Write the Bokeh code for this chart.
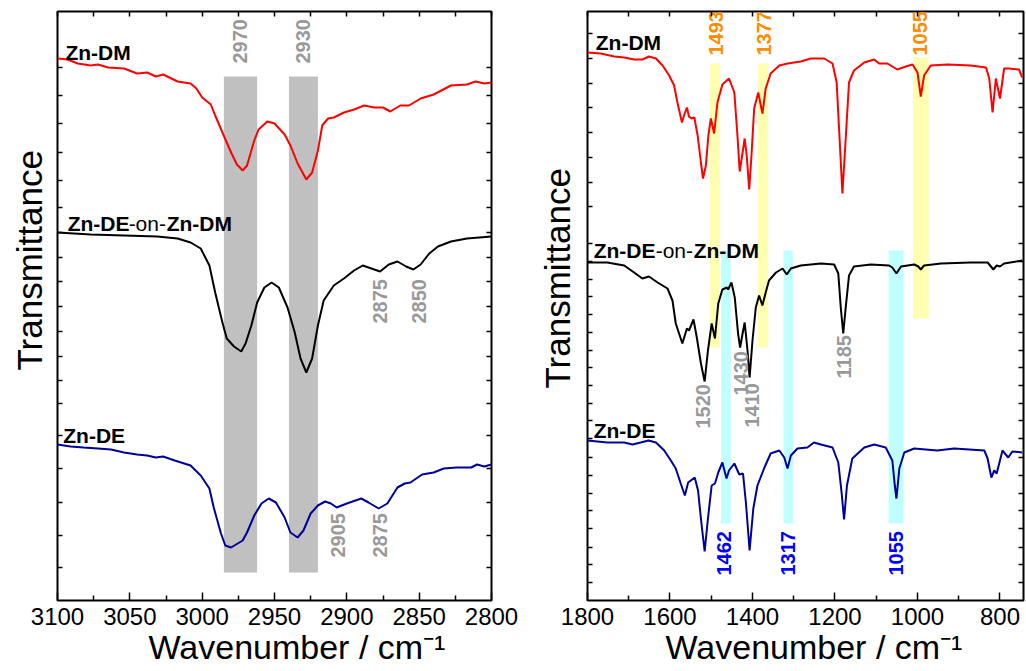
import math
from bokeh.plotting import figure
from bokeh.layouts import row
from bokeh.models import Range1d, LinearAxis, FixedTicker, Title
from bokeh.core.properties import value
from bokeh.embed import file_html
from bokeh.resources import INLINE

FONT = "Liberation Sans"

# ---------------- left panel: 3100-2800 cm-1 (transmittance, arbitrary offset units)
ch_dm = [(3100, 542), (3093, 541), (3086, 537), (3077, 535), (3072, 536), (3065, 533), (3054, 532),
         (3045, 527), (3038, 528), (3032, 524), (3027, 526), (3017, 519), (3008, 517), (3004, 512),
         (3000, 503), (2994, 496), (2991, 485), (2986, 468), (2980, 448), (2976, 436), (2972, 430),
         (2969, 435), (2964, 460), (2961, 471), (2955, 479), (2950, 477), (2943, 466), (2939, 455),
         (2934, 437), (2928, 421), (2924, 428), (2920, 450), (2917, 475), (2913, 482), (2909, 483),
         (2902, 488), (2895, 491), (2888, 495), (2881, 493), (2875, 493), (2870, 489), (2863, 495),
         (2857, 495), (2849, 502), (2840, 506), (2828, 515), (2817, 516), (2811, 519), (2805, 517),
         (2800, 518)]
ch_on = [(3100, 368), (3077, 366), (3054, 365), (3031, 364), (3017, 362), (3008, 358), (3001, 352),
         (2995, 335), (2991, 308), (2986, 278), (2983, 262), (2978, 254), (2973, 249), (2970, 257),
         (2966, 275), (2962, 298), (2957, 313), (2952, 318), (2947, 313), (2941, 293), (2936, 268),
         (2932, 242), (2928, 228), (2924, 242), (2920, 275), (2916, 300), (2909, 315), (2902, 322),
         (2895, 330), (2889, 335), (2883, 332), (2877, 329), (2871, 336), (2865, 339), (2859, 334),
         (2854, 331), (2849, 336), (2843, 347), (2837, 354), (2828, 359), (2817, 362), (2800, 364)]
ch_de = [(3100, 156), (3091, 154), (3082, 153), (3072, 152), (3063, 151), (3054, 148), (3045, 146),
         (3038, 145), (3032, 143), (3027, 144), (3019, 140), (3008, 135), (3001, 125), (2995, 112),
         (2992, 93), (2987, 67), (2984, 55), (2980, 53), (2972, 60), (2969, 68), (2964, 85),
         (2959, 97), (2954, 102), (2949, 98), (2943, 83), (2939, 68), (2934, 63), (2930, 70),
         (2925, 87), (2920, 95), (2915, 99), (2911, 97), (2907, 93), (2900, 97), (2890, 102),
         (2885, 98), (2878, 92), (2872, 97), (2865, 113), (2860, 117), (2856, 118), (2848, 126),
         (2840, 128), (2833, 132), (2824, 133), (2814, 133), (2810, 136), (2805, 134), (2800, 136)]

left_bands = [(2985, 2962), (2940, 2920)]
left_band_span = (28, 524)
left_peaks_top = ["2970", "2930"]
left_peaks_top_x = [2974, 2930]
left_peaks_mid = ["2875", "2850"]
left_peaks_mid_x = [2877, 2850]
left_peaks_bot = ["2905", "2875"]
left_peaks_bot_x = [2906, 2877]

# ---------------- right panel: 1800-743 cm-1
fp_dm = [(1800, 548), (1768, 547), (1735, 544), (1711, 543), (1687, 541), (1667, 541), (1651, 544),
         (1634, 542), (1618, 535), (1602, 525), (1590, 515), (1582, 498), (1571, 478), (1566, 485),
         (1559, 493), (1554, 484), (1548, 482), (1541, 483), (1533, 465), (1525, 438), (1520, 422),
         (1513, 435), (1507, 465), (1501, 482), (1493, 467), (1485, 498), (1473, 516), (1457, 522),
         (1444, 508), (1436, 462), (1431, 429), (1424, 448), (1419, 462), (1414, 445), (1408, 411),
         (1402, 448), (1396, 492), (1386, 508), (1376, 487), (1368, 512), (1356, 527), (1335, 535),
         (1315, 537), (1283, 539), (1259, 542), (1226, 542), (1206, 537), (1196, 518), (1188, 455),
         (1182, 407), (1175, 455), (1166, 518), (1154, 530), (1129, 538), (1105, 541), (1093, 537),
         (1073, 537), (1049, 531), (1028, 534), (1012, 536), (1000, 528), (992, 504), (984, 525),
         (968, 535), (927, 536), (871, 535), (834, 533), (826, 522), (818, 488), (810, 522),
         (800, 502), (790, 532), (778, 532), (754, 531), (746, 523)]
fp_on = [(1800, 338), (1752, 338), (1711, 335), (1687, 328), (1667, 322), (1651, 324), (1630, 318),
         (1606, 312), (1594, 300), (1586, 277), (1570, 257), (1559, 272), (1554, 270), (1543, 281),
         (1535, 263), (1525, 237), (1516, 219), (1508, 250), (1499, 277), (1491, 262), (1483, 297),
         (1473, 311), (1462, 313), (1459, 311), (1451, 318), (1443, 303), (1435, 267), (1430, 253),
         (1424, 267), (1419, 278), (1412, 250), (1407, 223), (1400, 260), (1392, 293), (1384, 305),
         (1376, 295), (1368, 308), (1360, 320), (1343, 328), (1327, 332), (1317, 326), (1307, 332),
         (1283, 335), (1234, 337), (1202, 336), (1192, 327), (1186, 293), (1180, 267), (1174, 293),
         (1166, 325), (1154, 334), (1113, 336), (1069, 335), (1061, 333), (1051, 327), (1040, 334),
         (1008, 336), (998, 334), (992, 331), (984, 335), (943, 337), (871, 338), (830, 338),
         (822, 334), (816, 331), (808, 335), (800, 334), (790, 337), (746, 340)]
fp_de = [(1800, 160), (1752, 158), (1711, 158), (1691, 156), (1671, 158), (1652, 160), (1634, 158),
         (1614, 150), (1598, 140), (1586, 132), (1574, 117), (1564, 105), (1556, 118), (1540, 123),
         (1532, 110), (1524, 78), (1516, 49), (1508, 82), (1499, 115), (1491, 117), (1483, 128),
         (1473, 138), (1463, 122), (1457, 130), (1444, 137), (1432, 126), (1423, 127), (1416, 98),
         (1407, 50), (1398, 92), (1388, 115), (1372, 132), (1356, 147), (1335, 150), (1323, 143),
         (1315, 132), (1307, 145), (1291, 152), (1267, 153), (1251, 158), (1234, 156), (1206, 153),
         (1192, 138), (1184, 108), (1178, 81), (1171, 115), (1158, 142), (1129, 153), (1105, 156),
         (1077, 153), (1061, 140), (1055, 115), (1051, 102), (1044, 132), (1032, 148), (1008, 152),
         (952, 150), (911, 152), (838, 150), (830, 142), (821, 123), (814, 130), (808, 127),
         (794, 150), (780, 143), (770, 149), (746, 148)]

yellow_bands = [(1503, 1479, 253, 537), (1387, 1362, 253, 537), (1011, 973, 282, 543)]
cyan_bands = [(1476, 1453, 77, 350), (1325, 1302, 77, 350), (1070, 1034, 77, 350)]
orange_peaks = ["1493", "1377", "1055"]
orange_peaks_x = [1488, 1373, 993]
gray_peaks = ["1520", "1430", "1410", "1185"]
gray_peaks_x = [1519, 1429, 1401, 1179]
gray_peaks_y = [172, 205, 173, 222]
blue_peaks = ["1462", "1317", "1055"]
blue_peaks_x = [1470, 1313, 1053]

left_yticks = [533, 505, 477, 448, 420, 393, 368, 343, 319, 294, 269, 244, 220, 197, 165, 132, 98, 65, 33]
right_yticks = [567, 542, 517, 493, 468, 443, 418, 394, 357, 339, 321, 304, 286, 268, 250, 233, 215,
                197, 180, 162, 143, 125, 107, 90, 72, 53, 36, 18]

RED, BLACK, NAVY = "#ff0000", "#000000", "#000099"
GRAY_TXT, ORANGE, BLUE = "#999999", "#ff8c00", "#0000ff"


def unzip(pairs):
    return [a for a, _ in pairs], [b for _, b in pairs]


def make_fig(width, xr, border_left, border_right):
    p = figure(width=width, height=671, x_range=xr, y_range=Range1d(0, 589),
               output_backend="svg", toolbar_location=None, x_axis_location=None,
               y_axis_location=None,
               min_border_left=border_left, min_border_right=border_right,
               min_border_top=11, min_border_bottom=71)
    p.grid.visible = False
    p.outline_line_color = "black"
    p.outline_line_width = 2
    p.background_fill_color = "white"
    p.border_fill_color = "white"
    return p


def add_axis(p, side, major, minor, major_len, minor_len, labels):
    ax = LinearAxis(ticker=FixedTicker(ticks=major, minor_ticks=minor))
    ax.axis_line_color = None
    ax.major_tick_in = major_len
    ax.major_tick_out = 0
    ax.minor_tick_in = minor_len
    ax.minor_tick_out = 0
    ax.major_tick_line_width = 1.5
    ax.minor_tick_line_width = 1.5
    ax.major_tick_line_color = "black"
    ax.minor_tick_line_color = "black"
    if labels:
        ax.major_label_text_font = FONT
        ax.major_label_text_font_size = "24px"
        ax.major_label_text_color = "black"
        ax.major_label_standoff = 7
    else:
        ax.major_label_text_color = None
        ax.major_label_text_font_size = "2px"
        ax.major_label_standoff = 0
    p.add_layout(ax, side)


def series_label(p, x, y, parts):
    off = 0
    for txt, bold, w in parts:
        p.text(x=[x], y=[y], text=[txt], x_offset=off, text_font=value(FONT),
               text_font_size="21px", text_font_style="bold" if bold else "normal",
               text_color="black", text_baseline="alphabetic", text_align="left")
        off += w


def peak_labels(p, xs, ys, texts, color, size="20px"):
    p.text(x=xs, y=ys, text=texts, angle=math.pi / 2, text_font=value(FONT),
           text_font_size=size, text_font_style="bold", text_color=color,
           text_align="left", text_baseline="middle")


def titles(p, y_offset, y_standoff, x_offset):
    p.add_layout(Title(text="Transmittance", align="left", offset=y_offset, vertical_align="top",
                       standoff=y_standoff, text_font=FONT, text_font_size="35px",
                       text_font_style="normal", text_color="black"), "left")
    p.add_layout(Title(text="Wavenumber / cm\u207b\u00b9", align="left", offset=x_offset,
                       vertical_align="top", standoff=0, text_font=FONT, text_font_size="34px",
                       text_font_style="normal", text_color="black"), "below")


# ---------------- left figure
pl = make_fig(520, Range1d(3100, 2800), 57, 29)
add_axis(pl, "below", list(range(2800, 3101, 50)), list(range(2825, 3100, 50)), 8, 5, True)
add_axis(pl, "above", list(range(2800, 3101, 25)), [], 5, 0, False)
add_axis(pl, "left", left_yticks, [], 5, 0, False)
add_axis(pl, "right", left_yticks, [], 5, 0, False)

for (a, b) in left_bands:
    pl.quad(left=[a], right=[b], bottom=[left_band_span[0]], top=[left_band_span[1]],
            fill_color="#c0c0c0", line_color=None)

for data, col in [(ch_dm, RED), (ch_on, BLACK), (ch_de, NAVY)]:
    xs, ys = unzip(data)
    pl.line(xs, ys, line_color=col, line_width=2)

peak_labels(pl, left_peaks_top_x, [537, 537], left_peaks_top, GRAY_TXT)
peak_labels(pl, left_peaks_mid_x, [277, 277], left_peaks_mid, GRAY_TXT)
peak_labels(pl, left_peaks_bot_x, [43, 43], left_peaks_bot, GRAY_TXT)

series_label(pl, 3094.5, 548, [("Zn-DM", True, 0)])
series_label(pl, 3093, 377, [("Zn-DE", True, 61), ("-on-", False, 38), ("Zn-DM", True, 0)])
series_label(pl, 3096, 165, [("Zn-DE", True, 0)])
titles(pl, 230, 14, 91)

# ---------------- right figure
pr = make_fig(506, Range1d(1800, 743), 67, 3)
add_axis(pr, "below", list(range(800, 1801, 200)), list(range(900, 1800, 200)), 8, 5, True)
add_axis(pr, "above", list(range(800, 1801, 100)), [], 5, 0, False)
add_axis(pr, "left", right_yticks, [], 5, 0, False)
add_axis(pr, "right", right_yticks, [], 5, 0, False)

for (a, b, lo, hi) in yellow_bands:
    pr.quad(left=[a], right=[b], bottom=[lo], top=[hi], fill_color="#ffffb0", line_color=None)
for (a, b, lo, hi) in cyan_bands:
    pr.quad(left=[a], right=[b], bottom=[lo], top=[hi], fill_color="#c0ffff", line_color=None)

for data, col in [(fp_dm, RED), (fp_on, BLACK), (fp_de, NAVY)]:
    xs, ys = unzip(data)
    pr.line(xs, ys, line_color=col, line_width=2)

peak_labels(pr, orange_peaks_x, [545] * 3, orange_peaks, ORANGE)
peak_labels(pr, gray_peaks_x, gray_peaks_y, gray_peaks, GRAY_TXT)
peak_labels(pr, blue_peaks_x, [25] * 3, blue_peaks, BLUE)

series_label(pr, 1780, 558, [("Zn-DM", True, 0)])
series_label(pr, 1785, 350, [("Zn-DE", True, 62), ("-on-", False, 38), ("Zn-DM", True, 0)])
series_label(pr, 1785, 170, [("Zn-DE", True, 0)])
titles(pr, 212, 18, 78)

layout = row(pl, pr)
open("out.html", "w").write(file_html(layout, INLINE))
